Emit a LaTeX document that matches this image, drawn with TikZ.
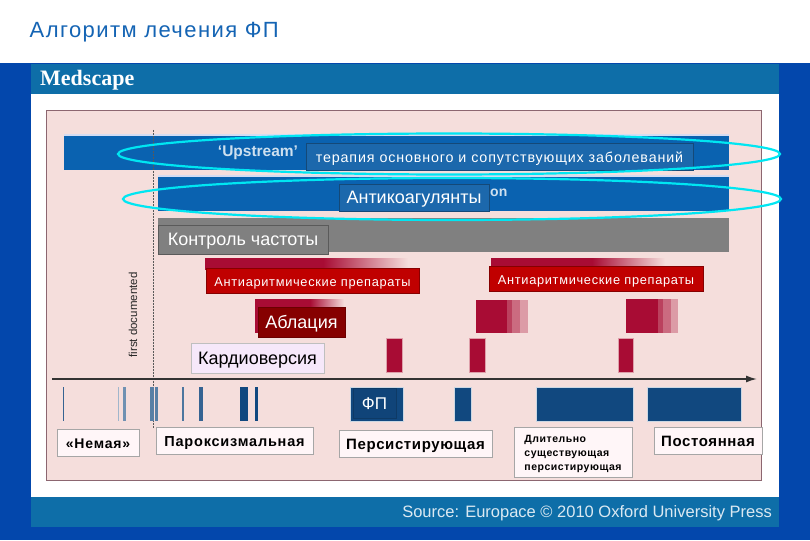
\documentclass[tikz,border=0pt]{standalone}
\usepackage{fontspec}
\setmainfont{Liberation Sans}
\newfontfamily\serifbold[Scale=1]{Liberation Serif}
\usetikzlibrary{arrows.meta}
\definecolor{deepblue}{HTML}{0347AC}
\definecolor{tealbar}{HTML}{0E6EA8}
\definecolor{panelpink}{HTML}{F5DEDC}
\definecolor{paneledge}{HTML}{8C6670}
\definecolor{barblue}{HTML}{0A62B0}
\definecolor{halo}{HTML}{D4DCF2}
\definecolor{lblblue}{HTML}{1C68AC}
\definecolor{gbar}{HTML}{808080}
\definecolor{crim}{HTML}{A80C34}
\definecolor{redlbl}{HTML}{C00000}
\definecolor{darkred}{HTML}{860000}
\definecolor{navy}{HTML}{11487F}
\definecolor{cyanring}{HTML}{00E6F2}
\definecolor{titleblue}{HTML}{1464B4}
\definecolor{lilac}{HTML}{F6E8FA}
\definecolor{labelwhite}{HTML}{FFF6F8}
\newcommand{\fs}[1]{\fontsize{#1}{#1}\selectfont}
\newcommand{\ls}[1]{\addfontfeatures{LetterSpace=#1}}
\newcommand{\rectnode}[7][]{\node[boxbase,#2,minimum width={(#5-#3)*1pt},minimum height={(#6-#4)*1pt},#1] at (#3,#4) {#7};}
\tikzset{
 x=1pt,y=-1pt,
 boxbase/.style={anchor=north west,inner sep=0pt,outer sep=0pt,text height=12pt,text depth=0pt},
 bluelabel/.style={fill=lblblue,draw=lblblue!70!black,line width=.5pt,text=white},
 greylabel/.style={fill=gbar,draw=gbar!70!black,line width=.5pt,text=white},
 redlabel/.style={fill=redlbl,draw=redlbl!70!black,line width=.5pt,text=white},
 ablabel/.style={fill=darkred,draw=darkred!80!black,line width=.5pt,text=white},
 lightlabel/.style={fill=labelwhite,draw=black!35,line width=.5pt,text=black},
 ring/.style={draw=cyanring,line width=2.2pt},
 timeaxis/.style={draw=black!80,line width=1.5pt,-{Latex[length=11pt,width=7pt]}},
 docline/.style={draw=black!65,line width=.5pt,densely dotted},
 crimblock/.style={fill=crim,draw=crim!30!panelpink,line width=1pt},
 navyblock/.style={fill=navy,draw=navy!22!white,line width=1pt},
}
\begin{document}
\begin{tikzpicture}
\useasboundingbox (0,0) rectangle (810,540);
% backgrounds
\fill[white] (0,0) rectangle (810,63);
\fill[deepblue] (0,63) rectangle (810,540);
\fill[white] (31,64) rectangle (779,527);
\fill[tealbar] (31,64) rectangle (779,94);
\fill[tealbar] (31,497) rectangle (779,527);
\node[anchor=base west,inner sep=0pt,text=titleblue] (title) at (29.5,38) {\fs{22}\ls{6.5}Алгоритм лечения ФП};
\node[anchor=base west,inner sep=0pt,text=white] (medscape) at (40,85.5) {\fs{22}\serifbold\bfseries Medscape};
\node[anchor=base east,inner sep=0pt,text=white!85!tealbar] (source) at (772,517) {\fs{16.5}Source: Europace © 2010 Oxford University Press};
\draw[draw=paneledge,fill=panelpink,line width=1pt] (46,111) rectangle (761,480);
% bars
\fill[halo] (64,134) rectangle (729,136);
\fill[barblue] (64,136) rectangle (729,170);
\fill[halo] (158,175) rectangle (729,177);
\fill[barblue] (158,177) rectangle (729,211);
\fill[gbar] (158,218) rectangle (729,252);
\coordinate (doctop) at (153.5,130);
\coordinate (docbot) at (153.5,428);
\draw[docline] (doctop) -- (docbot);
\node[anchor=base,text=white!80!barblue,inner sep=0pt] (up) at (258,156.5) {\fs{15.5}\bfseries ‘Upstream’};
\node[anchor=base west,text=white!80!barblue,inner sep=0pt] (on) at (490,196) {\fs{14}\bfseries on};
% gradient bars
\fill[crim] (205,258) rectangle (323,270);
\shade[left color=crim,right color=panelpink] (323,258) rectangle (408,270);
\fill[crim] (491,258) rectangle (592,270);
\shade[left color=crim,right color=panelpink] (592,258) rectangle (665,270);
\fill[crim] (255,299) rectangle (310,333);
\shade[left color=crim,right color=panelpink] (310,299) rectangle (344,333);
\fill[crim] (476,300) rectangle (507,333);
\fill[crim!75!panelpink] (507,300) rectangle (512,333);
\fill[crim!55!panelpink] (512,300) rectangle (520,333);
\fill[crim!32!panelpink] (520,300) rectangle (528,333);
\fill[crim] (626,299) rectangle (658,333);
\fill[crim!75!panelpink] (658,299) rectangle (663,333);
\fill[crim!55!panelpink] (663,299) rectangle (671,333);
\fill[crim!32!panelpink] (671,299) rectangle (678,333);
% cardioversion blocks
\path[crimblock] (386,338) rectangle (402,372);
\path[crimblock] (469,338) rectangle (485,372);
\path[crimblock] (618,338) rectangle (633,372);
% axis
\coordinate (axl) at (52,379);
\coordinate (axr) at (757,379);
\draw[timeaxis] (axl) -- (axr);
% episodes
\fill[navy!85] (63,387) rectangle (64.3,421);
\fill[navy!40] (118,387) rectangle (119,421);
\fill[navy!60] (123,387) rectangle (126,421);
\fill[navy!70] (150,387) rectangle (154,421);
\fill[navy!70] (155,387) rectangle (158,421);
\fill[navy!75] (182,387) rectangle (184,421);
\fill[navy!85] (199,387) rectangle (203,421);
\fill[navy] (240,387) rectangle (248,421);
\fill[navy] (255,387) rectangle (258,421);
\path[navyblock] (350,387) rectangle (403,421);
\path[navyblock] (454,387) rectangle (471,421);
\path[navyblock] (536,387) rectangle (633,421);
\path[navyblock] (647,387) rectangle (741,421);
\rectnode[draw=navy!80!black,line width=.5pt]{fill=navy!95!black,text=white}{353}{388}{396}{418}{\fs{17}ФП}
% rotated text
\node[rotate=90,text=black!85,inner sep=0pt] (first) at (133,315) {\fs{11.5}first documented};
% labels
\rectnode{bluelabel}{306}{143}{693}{170}{\fs{14.3}\ls{6}терапия основного и сопутствующих заболеваний}
\rectnode{bluelabel}{339}{184}{489}{211}{\fs{18}Антикоагулянты}
\rectnode{greylabel}{158}{225}{328}{254}{\fs{18}Контроль частоты}
\rectnode{redlabel}{206}{268}{419}{293}{\fs{12.8}\ls{5.4}Антиаритмические препараты}
\rectnode{redlabel}{489}{266}{703}{291}{\fs{12.8}\ls{5.4}Антиаритмические препараты}
\rectnode{ablabel}{258}{307}{345}{337}{\fs{18}Аблация}
\rectnode{fill=lilac,draw=black!25,line width=.5pt,text=black}{191}{343}{324}{373}{\fs{18}Кардиоверсия}
\rectnode{lightlabel}{57}{429}{139}{456}{\fs{14}\bfseries\ls{6}«Немая»}
\rectnode{lightlabel}{156}{427}{313}{454}{\fs{14.5}\bfseries\ls{5.5}Пароксизмальная}
\rectnode{lightlabel}{339}{430}{492}{457}{\fs{15}\bfseries\ls{4}Персистирующая}
\rectnode[text height=,text depth=]{lightlabel}{514}{427}{632}{477}{\fs{10.5}\bfseries\ls{5}\begin{tabular}{@{}l@{}}\rule{0pt}{12pt}Длительно\\[3.4pt]существующая\\[3.4pt]персистирующая\end{tabular}}
\rectnode{lightlabel}{654}{427}{762}{454}{\fs{15}\bfseries\ls{4}Постоянная}
% rings
\draw[ring] (449,154) ellipse [x radius=331,y radius=20.5];
\draw[ring] (452,199) ellipse [x radius=329,y radius=21];
\end{tikzpicture}
\end{document}
